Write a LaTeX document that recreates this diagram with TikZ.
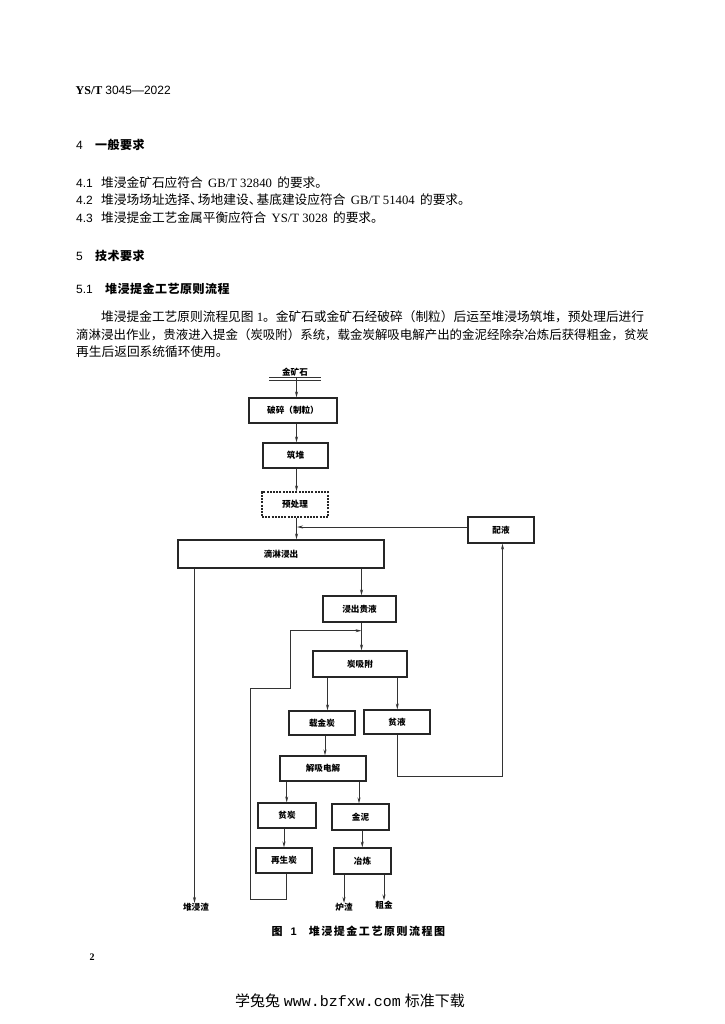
\documentclass[tikz,border=0pt]{standalone}
\usepackage{fontspec}
\setmainfont{Liberation Serif}
\newfontfamily\cjk{Noto Sans CJK SC}
\newfontfamily\cjkcap[LetterSpace=14]{Noto Sans CJK SC}
\newfontfamily\cjkhd[LetterSpace=4]{Noto Sans CJK SC}
\newfontfamily\hsans{Liberation Sans}
\newfontfamily\hmono{Liberation Mono}
\usetikzlibrary{arrows.meta}
\newcommand\lgap{\hspace{0.42em}}
\newcommand\narrowdun{\makebox[0.62em][l]{、}}
\tikzset{
  bodytxt/.style={anchor=base west, inner sep=0pt, font=\fontsize{12.7}{15}\selectfont},
  headtxt/.style={anchor=base west, inner sep=0pt, font=\fontsize{12}{14}\selectfont},
  box/.style={draw=black!85, line width=1.1pt, inner sep=0pt, text=black,
    font=\cjk\bfseries\fontsize{8.6}{10}\selectfont},
  dashbox/.style={box, dash pattern=on 2pt off 1.2pt},
  lbl/.style={inner sep=0pt, font=\cjk\bfseries\fontsize{8.6}{10}\selectfont},
  conn/.style={draw=black!80, line width=0.8pt},
  arr/.style={conn, -{Stealth[length=6pt,width=3pt]}},
}
\begin{document}
\begin{tikzpicture}[x=1pt,y=-1pt]
\useasboundingbox[fill=white] (0,0) rectangle (724,1024);

% ---------- page text ----------
\node[headtxt, anchor=base west] (hdr) at (75.5,94.3)
  {\textbf{YS/T} {\hsans 3045—2022}};

\node[headtxt] (h4n) at (76,149.6) {\hsans 4};
\node[headtxt] (h4) at (95,149.6) {\cjkhd\bfseries 一般要求};

\node[bodytxt] (l41n) at (76,187.5) {\hsans\fontsize{12}{14}\selectfont 4.1};
\node[bodytxt] (l41) at (101,187.5) {{\cjk 堆浸金矿石应符合}\lgap GB/T 32840\lgap{\cjk 的要求。}};
\node[bodytxt] (l42n) at (76,205) {\hsans\fontsize{12}{14}\selectfont 4.2};
\node[bodytxt] (l42) at (101,205) {{\cjk 堆浸场场址选择\narrowdun 场地建设\narrowdun 基底建设应符合}\lgap GB/T 51404\lgap{\cjk 的要求。}};
\node[bodytxt] (l43n) at (76,222.5) {\hsans\fontsize{12}{14}\selectfont 4.3};
\node[bodytxt] (l43) at (101,222.5) {{\cjk 堆浸提金工艺金属平衡应符合}\lgap YS/T 3028\lgap{\cjk 的要求。}};

\node[headtxt] (h5n) at (76,260.6) {\hsans 5};
\node[headtxt] (h5) at (95,260.6) {\cjkhd\bfseries 技术要求};

\node[headtxt] (h51n) at (76,293.6) {\hsans 5.1};
\node[headtxt] (h51) at (105,293.6) {\cjkhd\bfseries 堆浸提金工艺原则流程};

\node[bodytxt] (p1) at (101,321.6) {{\cjk 堆浸提金工艺原则流程见图} 1{\cjk 。金矿石或金矿石经破碎（制粒）后运至堆浸场筑堆，预处理后进行}};
\node[bodytxt, font=\fontsize{12.45}{15}\selectfont] (p2) at (76,339.1) {\cjk 滴淋浸出作业，贵液进入提金（炭吸附）系统，载金炭解吸电解产出的金泥经除杂冶炼后获得粗金，贫炭};
\node[bodytxt] (p3) at (76,356.6) {\cjk 再生后返回系统循环使用。};

% ---------- flow chart ----------
\coordinate (c1) at (296.5,0);
\node[lbl] (ore) at (295,372) {金矿石};
\coordinate (ul) at (269,380);
\coordinate (ur) at (321,380);
\draw[conn, line width=0.7pt] (ul) -- (ur);
\draw[conn, line width=0.7pt] ([yshift=2.6pt]ul) -- ([yshift=2.6pt]ur);

\node[box, minimum width=88pt, minimum height=25pt] (crush) at (293,410.5) {破碎（制粒）};
\node[box, minimum width=65pt, minimum height=25pt] (heap) at (295.5,455.5) {筑堆};
\node[dashbox, minimum width=66pt, minimum height=25pt] (pre) at (295,504.5) {预处理};
\node[box, minimum width=66pt, minimum height=26pt] (peiye) at (501,530) {配液};
\node[box, minimum width=206pt, minimum height=28pt] (leach) at (281,554) {滴淋浸出};
\node[box, minimum width=73pt, minimum height=26pt] (preg) at (359.5,609) {浸出贵液};
\node[box, minimum width=94pt, minimum height=26pt] (cip) at (360,664) {炭吸附};
\node[box, minimum width=66pt, minimum height=24pt] (loaded) at (322,723) {载金炭};
\node[box, minimum width=66pt, minimum height=24pt] (barren) at (397,722) {贫液};
\node[box, minimum width=86pt, minimum height=25pt] (elu) at (323,768.5) {解吸电解};
\node[box, minimum width=58pt, minimum height=25pt] (barc) at (287,815.5) {贫炭};
\node[box, minimum width=57pt, minimum height=26pt] (mud) at (360.5,817) {金泥};
\node[box, minimum width=56pt, minimum height=25pt] (regen) at (284,860.5) {再生炭};
\node[box, minimum width=57pt, minimum height=26pt] (smelt) at (362.5,861) {冶炼};

\node[lbl, anchor=north] (resid) at (196,903) {堆浸渣};
\node[lbl, anchor=north] (slag) at (344,903) {炉渣};
\node[lbl, anchor=north] (gold) at (384,900.5) {粗金};

% main column
\draw[arr] ([yshift=3pt]ul -| c1) -- (crush.north -| c1);
\draw[arr] (crush.south -| c1) -- (heap.north -| c1);
\draw[arr] (heap.south -| c1) -- (pre.north -| c1);
\draw[arr] (pre.south -| c1) -- (leach.north -| c1);
\coordinate (j1) at (297,527);
\draw[arr] (peiye.west |- j1) -- (j1);

% leach outputs
\coordinate (rx) at (194.5,0);
\draw[arr] (leach.south -| rx) -- (resid.north -| rx);
\coordinate (px) at (361.5,0);
\draw[arr] (leach.south -| px) -- (preg.north -| px);
\draw[arr] (preg.south -| px) -- (cip.north -| px);

% carbon adsorption outputs
\coordinate (lx) at (327.5,0);
\coordinate (bx) at (397.3,0);
\draw[arr] (cip.south -| lx) -- (loaded.north -| lx);
\draw[arr] (cip.south -| bx) -- (barren.north -| bx);

% barren solution back to make-up
\coordinate (b1) at (502.5,776.7);
\draw[arr] (barren.south -| bx) |- (b1) -- (peiye.south -| b1);

% elution
\coordinate (ex) at (325,0);
\draw[arr] (loaded.south -| ex) -- (elu.north -| ex);
\coordinate (e1) at (286.7,0);
\coordinate (e2) at (359,0);
\draw[arr] (elu.south -| e1) -- (barc.north -| e1);
\draw[arr] (elu.south -| e2) -- (mud.north -| e2);
\coordinate (gx) at (284,0);
\draw[arr] (barc.south -| gx) -- (regen.north -| gx);
\coordinate (mx) at (362.3,0);
\draw[arr] (mud.south -| mx) -- (smelt.north -| mx);

% smelting outputs
\draw[arr] (smelt.south -| slag) -- (slag.north);
\draw[arr] (smelt.south -| gold) -- (gold.north);

% regenerated carbon loop
\coordinate (q0) at (286,899);
\coordinate (q1) at (250.5,899);
\coordinate (q2) at (250.5,688);
\coordinate (q3) at (290.7,688);
\coordinate (q4) at (290.7,630.7);
\coordinate (q5) at (361.5,630.7);
\draw[arr] (regen.south -| q0) -- (q0) -- (q1) -- (q2) -- (q3) -- (q4) -- (q5);

% caption
\node[anchor=west, inner sep=0pt, font=\fontsize{11}{13}\selectfont] (cap) at (271.5,931.5)
  {{\cjkcap\bfseries 图}\hspace{8pt}{\hsans\bfseries 1}\hspace{12pt}{\cjkcap\bfseries 堆浸提金工艺原则流程图}};

% page number and footer
\node[inner sep=0pt, font=\bfseries\fontsize{10}{12}\selectfont] (pg) at (92,957) {2};
\node[inner sep=0pt, font=\fontsize{15}{17}\selectfont] (foot) at (350,1001)
  {{\cjk 学兔兔} {\hmono www.bzfxw.com} {\cjk 标准下载}};
\end{tikzpicture}
\end{document}
